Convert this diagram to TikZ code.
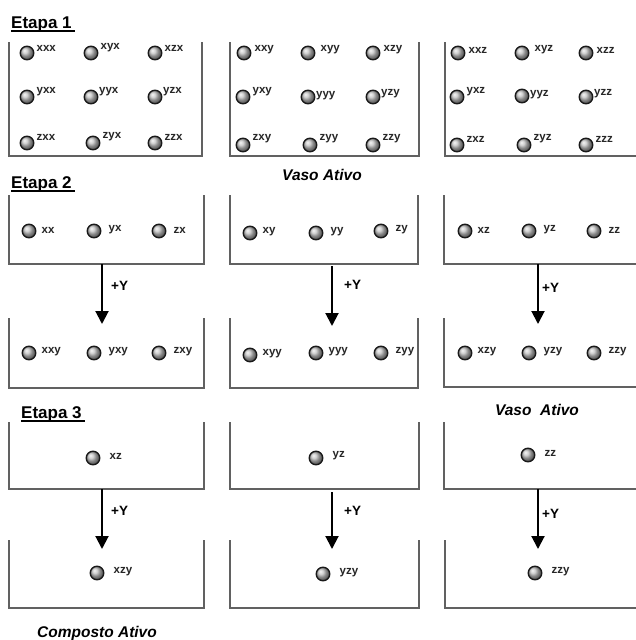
\documentclass[tikz,border=0pt]{standalone}
\usepackage{fontspec}
\setmainfont{Liberation Sans}
\usetikzlibrary{arrows.meta}
\newcommand\mol[5]{\node[ball] (#1) at (#2) {};
  \node[lbl, anchor=west] (#1t) at ([xshift=#5, yshift=#4]#1.east) {#3};}
\newcommand\vessel[4]{\draw[boxline] (#1,#3) -- (#1,#4) -- (#2,#4) -- (#2,#3);}
\newcommand\vesselopen[3]{\draw[boxline] (#1,#2) |- (640,#3);}
\begin{document}
\begin{tikzpicture}[x=1pt,y=-1pt,
  ball/.style={circle, minimum size=13.5pt, inner sep=0pt, shading=ball, ball color=gray!50, draw=black!90, line width=1.4pt},
  lbl/.style={font=\fontsize{11.5}{12}\selectfont\bfseries, inner sep=0pt, text=black!85},
  boxline/.style={draw=black!62, line width=1.3pt},
  arr/.style={line width=2pt, -{Triangle[width=13pt,length=13pt]}},
  plus/.style={font=\fontsize{13.5}{14}\selectfont\bfseries, anchor=west, inner sep=0pt},
  stage/.style={font=\fontsize{17}{18}\selectfont\bfseries, anchor=base west, inner sep=0pt},
  title/.style={font=\fontsize{15.5}{17}\selectfont\bfseries\itshape, inner sep=0pt}]
\useasboundingbox (0,0) rectangle (636,640);
\fill[white] (0,0) rectangle (636,640);
% ---------------- Etapa 1
\node[stage] (e1) at (11,28) {Etapa 1};
\draw[line width=1.4pt] (e1.base west) ++(0,3) -- ++(64,0);
\vessel{9}{202}{42}{156}
\vessel{230}{419}{42}{156}
\vesselopen{445}{42}{156}
% box 1
\mol{a11}{27,53}{xxx}{5pt}{2pt}
\mol{a12}{91,53}{xyx}{5pt}{2pt}
\mol{a13}{155,53}{xzx}{5pt}{2pt}
\mol{a21}{27,97}{yxx}{5pt}{2pt}
\mol{a22}{91,97}{yyx}{5pt}{0.5pt}
\mol{a23}{155,97}{yzx}{5pt}{0.5pt}
\mol{a31}{27,143}{zxx}{6pt}{2pt}
\mol{a32}{93,143}{zyx}{6pt}{2pt}
\mol{a33}{155,143}{zzx}{6pt}{2pt}
% box 2
\mol{b11}{244,53}{xxy}{3pt}{3pt}
\mol{b12}{308,53}{xyy}{3pt}{5pt}
\mol{b13}{373,53}{xzy}{3pt}{3pt}
\mol{b21}{243,97}{yxy}{5pt}{2pt}
\mol{b22}{308,97}{yyy}{1pt}{0.5pt}
\mol{b23}{373,97}{yzy}{3pt}{0.5pt}
\mol{b31}{243,145}{zxy}{6pt}{2pt}
\mol{b32}{310,145}{zyy}{6pt}{2pt}
\mol{b33}{373,145}{zzy}{6pt}{2pt}
% box 3
\mol{c11}{458,53}{xxz}{3pt}{3pt}
\mol{c12}{522,53}{xyz}{3pt}{5pt}
\mol{c13}{586,53}{xzz}{3pt}{3pt}
\mol{c21}{457,97}{yxz}{5pt}{2pt}
\mol{c22}{522,96}{yyz}{1pt}{0.5pt}
\mol{c23}{586,97}{yzz}{3pt}{0.5pt}
\mol{c31}{457,145}{zxz}{6pt}{2pt}
\mol{c32}{524,145}{zyz}{6pt}{2pt}
\mol{c33}{586,145}{zzz}{6pt}{2pt}
\node[title] (va1) at (322,175) {Vaso Ativo};
% ---------------- Etapa 2
\node[stage] (e2) at (11,188) {Etapa 2};
\draw[line width=1.4pt] (e2.base west) ++(0,3) -- ++(64,0);
\vessel{9}{204}{195}{264}
\vessel{230}{418}{195}{264}
\vesselopen{444}{195}{264}
\mol{d1}{29,231}{xx}{1pt}{5pt}
\mol{d2}{94,231}{yx}{1pt}{7pt}
\mol{d3}{159,231}{zx}{1pt}{7pt}
\mol{d4}{250,233}{xy}{1pt}{5pt}
\mol{d5}{316,233}{yy}{1pt}{7pt}
\mol{d6}{381,231}{zy}{1pt}{7pt}
\mol{d7}{465,231}{xz}{1pt}{5pt}
\mol{d8}{529,231}{yz}{1pt}{7pt}
\mol{d9}{594,231}{zz}{1pt}{7pt}
\vessel{9}{204}{318}{388}
\vessel{230}{418}{318}{388}
\vesselopen{444}{318}{387}
\mol{f1}{29,353}{xxy}{1pt}{5pt}
\mol{f2}{94,353}{yxy}{1pt}{7pt}
\mol{f3}{159,353}{zxy}{1pt}{7pt}
\mol{f4}{250,355}{xyy}{1pt}{5pt}
\mol{f5}{316,353}{yyy}{1pt}{5pt}
\mol{f6}{381,353}{zyy}{1pt}{7pt}
\mol{f7}{465,353}{xzy}{1pt}{5pt}
\mol{f8}{529,353}{yzy}{1pt}{7pt}
\mol{f9}{594,353}{zzy}{1pt}{7pt}
\coordinate (s1) at (102,264); \coordinate (t1) at (102,324);
\coordinate (s2) at (332,266); \coordinate (t2) at (332,326);
\coordinate (s3) at (538,264); \coordinate (t3) at (538,324);
\draw[arr] (s1) -- (t1);
\draw[arr] (s2) -- (t2);
\draw[arr] (s3) -- (t3);
\node[plus] (p1) at (111,286) {+Y};
\node[plus] (p2) at (344,285) {+Y};
\node[plus] (p3) at (542,288) {+Y};
\node[title] (va2) at (537,410) {Vaso\ \ Ativo};
% ---------------- Etapa 3
\node[stage] (e3) at (21,418) {Etapa 3};
\draw[line width=1.4pt] (e3.base west) ++(0,3) -- ++(64,0);
\vessel{9}{204}{422}{489}
\vessel{230}{419}{422}{489}
\vesselopen{444}{422}{489}
\mol{g1}{93,458}{xz}{2pt}{9pt}
\mol{g2}{316,458}{yz}{2pt}{9pt}
\mol{g3}{528,455}{zz}{2pt}{9pt}
\vessel{9}{204}{540}{608}
\vessel{230}{419}{540}{608}
\vesselopen{445}{540}{608}
\mol{h1}{97,573}{xzy}{1pt}{9pt}
\mol{h2}{323,574}{yzy}{1pt}{9pt}
\mol{h3}{535,573}{zzy}{1pt}{9pt}
\coordinate (u1) at (102,489); \coordinate (v1) at (102,549);
\coordinate (u2) at (332,492); \coordinate (v2) at (332,549);
\coordinate (u3) at (538,489); \coordinate (v3) at (538,549);
\draw[arr] (u1) -- (v1);
\draw[arr] (u2) -- (v2);
\draw[arr] (u3) -- (v3);
\node[plus] (q1) at (111,511) {+Y};
\node[plus] (q2) at (344,511) {+Y};
\node[plus] (q3) at (542,514) {+Y};
\node[title] (ca) at (97,633) {Composto Ativo};
\end{tikzpicture}
\end{document}
